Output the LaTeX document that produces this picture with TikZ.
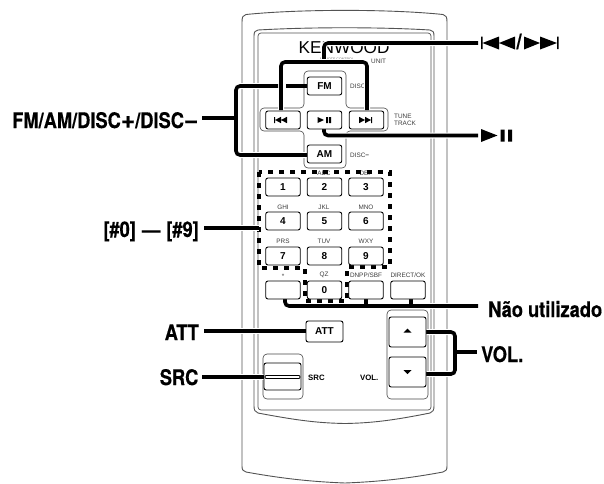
\documentclass[tikz,border=0pt]{standalone}
\usepackage{fontspec}
\usepackage{graphicx}
\setmainfont{Liberation Sans}
\newfontfamily\lab[FakeStretch=0.85,FakeBold=0.4]{TeX Gyre Heros Bold}
\usetikzlibrary{calc}
\definecolor{ink}{gray}{0.1}
\tikzset{
  x=1pt,y=-1pt,
  body/.style={draw=ink!75!white,line width=0.9pt,line join=round},
  lead/.style={draw=black,line width=3.6pt,rounded corners=4pt,line cap=butt,preaction={draw=white,line width=6pt}},
  plainlead/.style={draw=black,line width=3.6pt,rounded corners=4pt,line cap=butt},
  dots/.style={draw=black,line width=3.6pt,dash pattern=on 5pt off 6pt},
  btn/.style={draw=black,fill=white,line width=0.9pt,rounded corners=2.2pt,inner sep=0pt,minimum width=34.5pt,minimum height=18pt,font=\fontsize{10}{10}\selectfont\bfseries},
  frame/.style={draw=ink!80!white,line width=0.6pt,rounded corners=4pt},
  tiny/.style={inner sep=0pt,text=ink!85!white,font=\fontsize{6.4}{7}\selectfont},
  bold small/.style={inner sep=0pt,font=\fontsize{7.8}{8}\selectfont\bfseries},
  biglab/.style={inner sep=0pt,font=\fontsize{21.5}{22}\lab},
  glyph/.style={fill=black,draw=none},
}
\begin{document}
\begin{tikzpicture}
\useasboundingbox (0,0) rectangle (604,483);
% body
\draw[body] (242,22) .. controls (242,17) and (243,15) .. (246,14.5) .. controls (300,9) and (390,9) .. (443,14.5) .. controls (446,15) and (447,17) .. (447,22)
  -- (447,466) .. controls (447,470) and (446,471) .. (443,472) .. controls (400,480) and (370,482) .. (345,483) 
  (242,22) -- (242,466) .. controls (242,470) and (243,471) .. (246,472) .. controls (290,480) and (320,482) .. (345,483);
\draw[body] (254,36) .. controls (254,32) and (255,30.5) .. (258,30) .. controls (310,27) and (380,27) .. (430,30) .. controls (433,30.5) and (434,32) .. (434,36)
  -- (434,406) .. controls (434,410) and (433,412) .. (430,413) .. controls (390,421) and (370,423) .. (345,423.5) .. controls (320,423) and (300,421) .. (258,413) .. controls (255,412) and (254,410) .. (254,406) -- cycle;
\draw[body,line width=0.7pt,rounded corners=3pt] (258,33) -- (431,33) -- (431,410) -- (258,410) -- cycle;
% printed text
\node[inner sep=0pt,anchor=base west,font=\fontsize{17.2}{18}\selectfont] (brand) at (298.5,53.5) {KENWOOD};
\node[tiny,anchor=base,text=ink!60!white,font=\fontsize{3.6}{4}\selectfont] (model) at (337,60) {REMOTE CONTROL};
\node[tiny,anchor=base west] (unit) at (371,63) {UNIT};
\node[tiny,anchor=base west] (discp) at (350,88) {DISC};
\node[tiny,anchor=base west] (tune) at (394,118) {TUNE};
\node[tiny,anchor=base west] (track) at (394,125) {TRACK};
\node[tiny,anchor=base west] (discm) at (350,157) {DISC\textbf{−}};
% key legends
\foreach \t/\x/\y/\n in {ABC/324/175/abc,DEF/366/175/def,GHI/283/209/ghi,JKL/324/209/jkl,MNO/366/209/mno,PRS/283/243/prs,TUV/324/243/tuv,WXY/366/243/wxy,*/283/278/star,QZ/324/277/qz,DNPP\slash SBF/366/277/dnpp,DIRECT\slash OK/408/277/direct}
  \node[tiny] (\n) at (\x,\y-2) {\t};
% control frames
\draw[frame] (304,108) -- (304,71) -- (346,71) -- (346,108) -- (388,108) -- (388,131) -- (346,131) -- (346,168) -- (304,168) -- (304,131) -- (260,131) -- (260,108) -- cycle;
\draw[frame] (387,340) -- (387,399) -- (428,399) -- (428,340);
\draw[frame] (387,340) -- (387,310) -- (428,310) -- (428,340);
\draw[frame] (263,354) rectangle (303,399);
% labels
\node[biglab,anchor=base west] (ldisc) at (12,128) {FM/AM/DISC\scalebox{1.35}[1.15]{+}/DISC\scalebox{1.35}[1.15]{−}};
\node[biglab,anchor=base east] (lnum) at (199,237) {[\#0]\hspace{1pt} — \hspace{1pt}[\#9]};
\node[biglab,anchor=base east] (latt) at (199,340) {ATT};
\node[biglab,anchor=base east] (lsrc) at (198.5,385) {SRC};
\node[biglab,anchor=base west] (lnao) at (488,317) {Não utilizado};
\node[biglab,anchor=base west] (lvol) at (481,362) {VOL.};
% helper points
\coordinate (skip) at (478,43);
\coordinate (pause) at (478,135.5);
\coordinate (numend) at (259,228);
% keypad border
\draw[dots] (259,172) -- (259,268) -- (305,268) -- (305,301) -- (347,301) -- (347,267) -- (390,267) -- (390,172) -- cycle;
% leaders
\draw[lead] (324,62) -- (324,43) -- (skip);
\draw[lead] (281,110) -- (281,62) -- (367,62) -- (367,110);
\draw[lead] (324,128) -- (324,135.5) -- (pause);
\draw[lead] (204,228) -- (numend);
\draw[lead] (204,331) -- (306,331);
\draw[lead] (202,377) -- (264,377);
\draw[lead] (285,297) -- (285,306) -- (478,306);
\draw[plainlead] (366,298) -- (366,306);
\draw[plainlead] (411,298) -- (411,306);
\draw[lead] (426,332) -- (455,332) -- (455,374) -- (426,374);
\draw[plainlead] (455,352) -- (477,352);
\draw[lead] (307,155) -- (236,155) -- (236,86) -- (278,86);
\draw[plainlead] (202,118) -- (236,118);
\draw[plainlead] (286,86) -- (307,86);
% buttons
\node[btn] (fm) at (324.5,86) {FM};
\node[btn] (prev) at (283,120) {};
\node[btn] (play) at (324.5,120) {};
\node[btn] (next) at (366.5,120) {};
\node[btn] (am) at (324.5,154) {AM};
\foreach \t/\x/\y in {1/283/187,2/324.5/187,3/366/187,4/283/221,5/324.5/221,6/366/221,7/283/256,8/324.5/256,9/366/256,0/324.5/290}
  \node[btn] (k\t) at (\x,\y) {\t};
\node[btn] (kstar) at (283,290) {};
\node[btn] (kdnpp) at (366,290) {};
\node[btn] (kdirect) at (408,290) {};
\node[btn,minimum width=37pt,minimum height=21pt] (att) at (324.5,331.5) {ATT};
\node[btn,minimum width=37pt,minimum height=30pt] (volup) at (407.5,332) {};
\node[btn,minimum width=37pt,minimum height=30pt] (voldn) at (407.5,372) {};
\node[btn,minimum width=37pt,minimum height=27pt] (src) at (282.5,376.5) {};
\draw[black,line width=0.9pt,rounded corners=1pt] (265,375.5) rectangle (300,378.5);
% button glyphs
\fill[glyph] (274,117) rectangle (275.2,123) (275.2,120) -- (281,116.8) -- (281,123.2) -- cycle (281,120) -- (287,116.8) -- (287,123.2) -- cycle;
\fill[glyph] (317.5,117) -- (324,120) -- (317.5,123) -- cycle (326,117) rectangle (328,123) (329,117) rectangle (331,123);
\fill[glyph] (359,116.8) -- (365,120) -- (359,123.2) -- cycle (365,116.8) -- (371,120) -- (365,123.2) -- cycle (371,117) rectangle (372.2,123);
\fill[glyph] (403.5,332.5) -- (407.5,328.5) -- (411.5,332.5) -- cycle (403.5,370) -- (411.5,370) -- (407.5,374) -- cycle;
% side texts
\node[bold small,anchor=base west] (tsrc) at (308,380) {SRC};
\node[bold small,anchor=base west] (tvol) at (360,380) {VOL.};
% big symbols
\fill[glyph] (481,36.5) rectangle (482.5,49) (482.5,43) -- (499,36.5) -- (499,49.5) -- cycle (499,43) -- (515,36.5) -- (515,49.5) -- cycle;
\node[biglab,anchor=base] (slash) at (519,49) {/};
\fill[glyph] (524,36.5) -- (540,43) -- (524,49.5) -- cycle (540,36.5) -- (557,43) -- (540,49.5) -- cycle (557,36.5) rectangle (558.5,49);
\fill[glyph] (481,129) -- (497.5,135.5) -- (481,142) -- cycle (500.7,129.5) rectangle (504.5,141.5) (508,129.5) rectangle (512,141.5);
\end{tikzpicture}
\end{document}
